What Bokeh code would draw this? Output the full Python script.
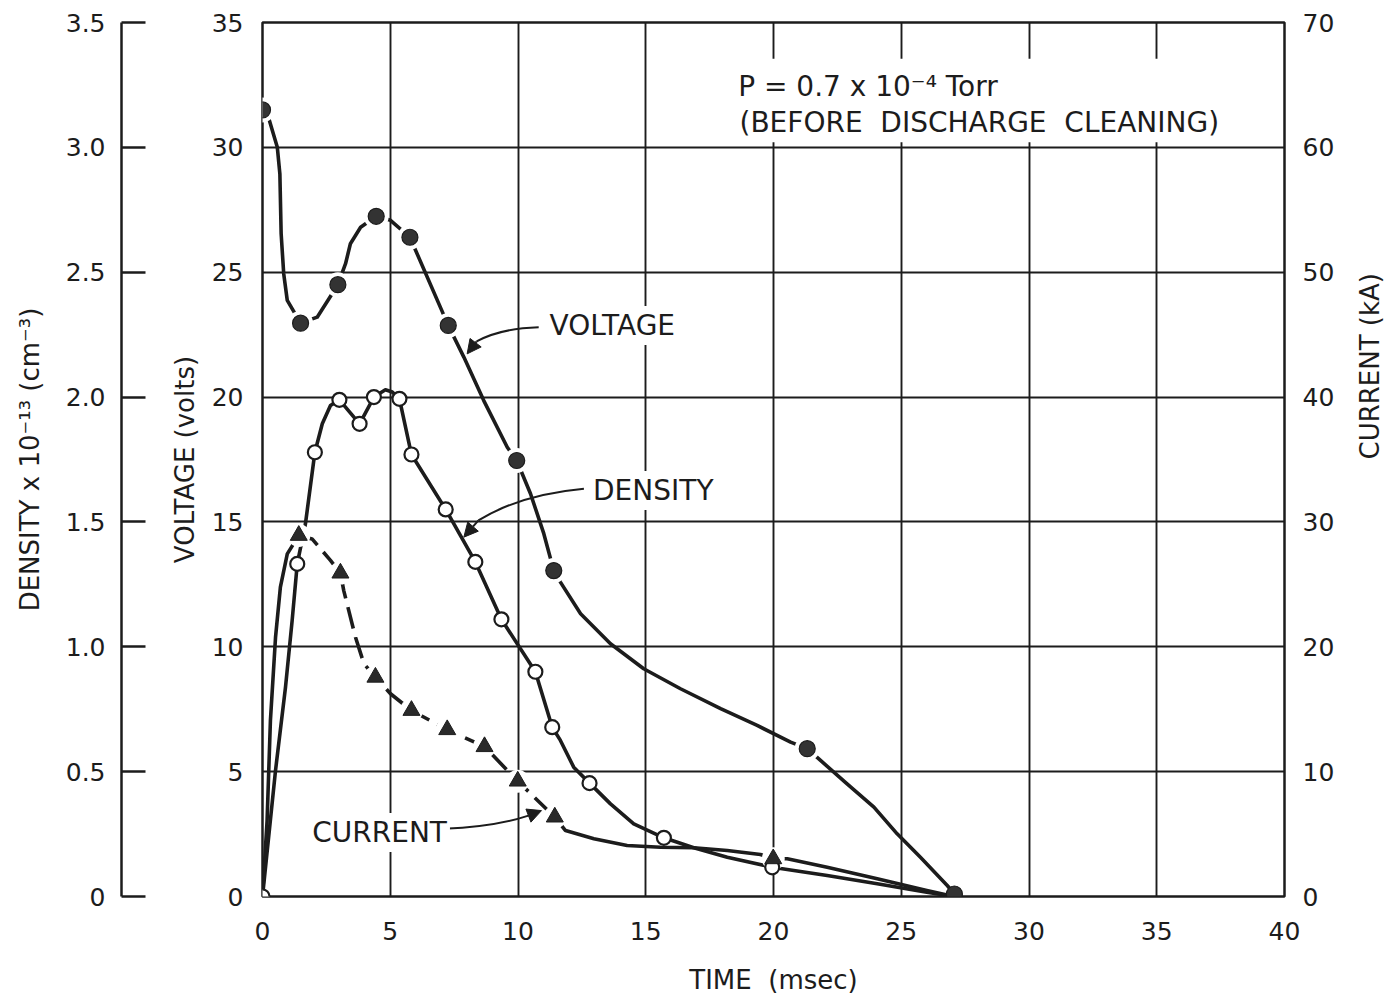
import math
from bokeh.plotting import figure
from bokeh.models import Range1d, LinearAxis, FixedTicker, Label, Arrow, NormalHead, BoxAnnotation
from bokeh.embed import file_html
from bokeh.resources import INLINE

# ---------------- data ----------------
# measured points (markers)
voltage_t = [0.0, 1.49, 2.95, 4.45, 5.77, 7.27, 9.95, 11.4, 21.32, 27.08]
voltage_v = [31.5, 22.96, 24.5, 27.24, 26.4, 22.87, 17.46, 13.05, 5.92, 0.1]

density_t = [0.0, 1.36, 2.05, 3.01, 3.80, 4.36, 5.36, 5.83, 7.17, 8.33, 9.35, 10.68, 11.34, 12.8, 15.71, 19.95]
density_n = [0.0, 1.332, 1.779, 1.989, 1.893, 2.0, 1.993, 1.77, 1.55, 1.34, 1.11, 0.90, 0.678, 0.454, 0.235, 0.117]

current_t = [1.42, 3.05, 4.42, 5.83, 7.23, 8.69, 9.99, 11.44, 19.99]
current_i = [28.92, 25.9, 17.56, 14.9, 13.36, 12.0, 9.24, 6.36, 3.02]

# hand-drawn curves through the points
voltage_curve_t = [0.0, 0.27, 0.58, 0.68, 0.73, 0.83, 0.97, 1.49, 2.14, 2.95, 3.25, 3.44, 3.84, 4.45,
                   5.01, 5.77, 7.27, 7.88, 8.66, 9.58, 9.95, 10.49, 11.01, 11.4, 11.66, 12.45, 13.62,
                   14.92, 16.36, 17.93, 19.36, 20.67, 21.32, 21.84, 22.88, 23.93, 24.84, 25.75, 26.8, 27.08]
voltage_curve_v = [31.5, 31.08, 30.0, 28.94, 26.54, 24.94, 23.87, 22.96, 23.2, 24.5, 25.34, 26.14, 26.8, 27.24,
                   27.08, 26.4, 22.87, 21.6, 19.86, 17.99, 17.46, 16.13, 14.53, 13.05, 12.59, 11.32, 10.12,
                   9.12, 8.32, 7.52, 6.85, 6.18, 5.92, 5.45, 4.51, 3.58, 2.51, 1.57, 0.44, 0.1]

density_curve_t = [0.0, 0.51, 0.9, 1.16, 1.36, 1.68, 2.05, 2.34, 2.66, 3.01, 3.80, 4.36, 4.81, 5.08, 5.36,
                   5.83, 7.17, 8.33, 9.35, 10.68, 11.34, 11.66, 12.18, 12.8, 13.62, 14.53, 15.71, 16.88,
                   18.19, 19.95, 22.1, 24.06, 26.0, 27.06]
density_curve_n = [0.0, 0.505, 0.838, 1.105, 1.332, 1.492, 1.779, 1.893, 1.966, 1.989, 1.893, 2.0, 2.029,
                   2.02, 1.993, 1.77, 1.55, 1.34, 1.11, 0.90, 0.678, 0.625, 0.518, 0.454, 0.371, 0.291,
                   0.235, 0.195, 0.157, 0.117, 0.084, 0.051, 0.017, 0.0]

current_curve_t = [0.0, 0.18, 0.31, 0.51, 0.7, 0.97, 1.42, 1.94, 2.66, 3.05, 3.18, 3.64, 3.97, 4.42, 5.01,
                   5.83, 7.23, 8.69, 9.99, 11.44, 11.86, 12.97, 14.27, 15.58, 16.88, 18.19, 19.49, 19.99,
                   20.54, 22.1, 24.06, 26.0, 27.06]
current_curve_i = [0.0, 6.08, 14.1, 20.76, 24.78, 27.44, 28.92, 28.64, 26.92, 25.9, 24.5, 20.76, 18.64,
                   17.56, 16.24, 14.9, 13.36, 12.0, 9.24, 6.36, 5.28, 4.62, 4.08, 3.94, 3.9, 3.68, 3.36,
                   3.02, 3.02, 2.34, 1.42, 0.48, 0.0]

time_ticks = [0, 5, 10, 15, 20, 25, 30, 35, 40]
time_tick_labels = ["0", "5", "10", "15", "20", "25", "30", "35", "40"]
voltage_ticks = [0, 5, 10, 15, 20, 25, 30, 35]
voltage_tick_labels = ["0", "5", "10", "15", "20", "25", "30", "35"]
density_ticks = [0, 0.5, 1.0, 1.5, 2.0, 2.5, 3.0, 3.5]
density_tick_labels = ["0", "0.5", "1.0", "1.5", "2.0", "2.5", "3.0", "3.5"]
current_ticks = [0, 10, 20, 30, 40, 50, 60, 70]
current_tick_labels = ["0", "10", "20", "30", "40", "50", "60", "70"]

# ---------------- style ----------------
FONT = "DejaVu Sans"
INK = "#1c1c1c"
TICK_FS = "25px"
TITLE_FS = "26px"
ANN_FS = "28px"
NB = "\u00a0"

p = figure(
    frame_width=1022, frame_height=874,
    x_range=Range1d(0, 40), y_range=Range1d(0, 35),
    output_backend="svg", toolbar_location=None,
    min_border_left=262, min_border_right=112, min_border_top=22, min_border_bottom=100,
    background_fill_color="white", border_fill_color="white",
    outline_line_color=INK, outline_line_width=2.5,
)
p.extra_y_ranges = {"density": Range1d(0, 3.5), "current": Range1d(0, 70)}

# grid
p.xgrid.ticker = FixedTicker(ticks=time_ticks)
p.ygrid.ticker = FixedTicker(ticks=voltage_ticks)
for g in (p.xgrid, p.ygrid):
    g.grid_line_color = INK
    g.grid_line_width = 1.9
    g.grid_line_alpha = 1.0

# white box behind the pressure note (interrupts the grid as in the original)
p.add_layout(BoxAnnotation(left=18.2, right=37.9, bottom=30.2, top=33.55, fill_color="white",
                           fill_alpha=1.0, line_color=None, level="underlay"))


def style_axis(ax, ticks, labels, title):
    ax.ticker = FixedTicker(ticks=ticks)
    ax.major_label_overrides = dict(zip(ticks, labels))
    ax.minor_tick_line_color = None
    ax.major_label_text_font = FONT
    ax.major_label_text_font_size = TICK_FS
    ax.major_label_text_color = INK
    ax.axis_label = title
    ax.axis_label_text_font = FONT
    ax.axis_label_text_font_size = TITLE_FS
    ax.axis_label_text_font_style = "normal"
    ax.axis_label_text_color = INK


# x axis
xax = p.xaxis[0]
style_axis(xax, time_ticks, time_tick_labels, "TIME" + NB + " (msec)")
xax.major_tick_out = 0
xax.major_tick_in = 0
xax.axis_line_color = None
xax.major_label_standoff = 25
xax.axis_label_standoff = 22

# voltage axis (inner left)
vax = p.yaxis[0]
style_axis(vax, voltage_ticks, voltage_tick_labels, "VOLTAGE (volts)")
vax.major_tick_out = 0
vax.major_tick_in = 0
vax.axis_line_color = None
vax.major_label_standoff = 19
vax.axis_label_standoff = 9

# spacer between voltage and density axis
spacer = LinearAxis(y_range_name="density", ticker=FixedTicker(ticks=[0.0]),
                    major_label_overrides={0.0: ""},
                    axis_line_color=None, major_tick_line_color="white", major_tick_line_alpha=0.0,
                    minor_tick_line_color=None, major_tick_out=45, major_tick_in=0,
                    major_label_standoff=0, major_label_text_font_size="1px")
p.add_layout(spacer, "left")

# density axis (outer left)
dax = LinearAxis(y_range_name="density")
style_axis(dax, density_ticks, density_tick_labels,
           "DENSITY x 10\u207b\u00b9\u00b3 (cm\u207b\u00b3)")
dax.axis_line_color = INK
dax.axis_line_width = 2.5
dax.major_tick_line_color = INK
dax.major_tick_line_width = 2.5
dax.major_tick_in = 24
dax.major_tick_out = 0
dax.major_label_standoff = 16
dax.axis_label_standoff = 18
p.add_layout(dax, "left")

# current axis (right)
cax = LinearAxis(y_range_name="current")
style_axis(cax, current_ticks, current_tick_labels, "CURRENT (kA)")
cax.axis_line_color = None
cax.major_tick_out = 0
cax.major_tick_in = 0
cax.major_label_standoff = 18
cax.axis_label_standoff = 33
try:
    cax.axis_label_orientation = math.pi / 2
except Exception:
    pass
p.add_layout(cax, "right")

# ---------------- curves ----------------
LW = 3.6
p.line(voltage_curve_t, voltage_curve_v, line_color=INK, line_width=LW, line_join="round")
p.line(density_curve_t, density_curve_n, y_range_name="density", line_color=INK, line_width=LW,
       line_join="round")

i_peak = current_curve_t.index(current_t[0])
i_dash_end = current_curve_t.index(current_t[7])
p.line(current_curve_t[:i_peak + 1], current_curve_i[:i_peak + 1], y_range_name="current",
       line_color=INK, line_width=LW, line_join="round")
p.line(current_curve_t[i_peak:i_dash_end + 1], current_curve_i[i_peak:i_dash_end + 1],
       y_range_name="current", line_color=INK, line_width=LW, line_dash="22 9", line_join="round")
p.line(current_curve_t[i_dash_end:], current_curve_i[i_dash_end:], y_range_name="current",
       line_color=INK, line_width=LW, line_join="round")

# white halos (the line stops short of the markers)
p.scatter(voltage_t[:-1], voltage_v[:-1], marker="circle", size=25, fill_color="white", line_color=None)
p.scatter(current_t, current_i, y_range_name="current", marker="circle", size=23,
          fill_color="white", line_color=None)

# markers
p.scatter(density_t, density_n, y_range_name="density", marker="circle", size=14,
          fill_color="white", line_color=INK, line_width=2.2)
p.scatter(current_t, current_i, y_range_name="current", marker="triangle", size=17,
          fill_color="#2a2a2a", line_color=INK, line_width=1)
p.scatter(voltage_t, voltage_v, marker="circle", size=16, fill_color="#333333", line_color=INK,
          line_width=1.2)

# ---------------- annotations ----------------
label_specs = [
    (18.5, 32.44, "P = 0.7 x 10\u207b\u2074 Torr"),
    (18.55, 31.0, "(BEFORE" + NB + " DISCHARGE" + NB + " CLEANING)"),
    (11.12, 22.87, "VOLTAGE"),
    (12.82, 16.26, "DENSITY"),
    (1.83, 2.56, "CURRENT"),
]
for lx, ly, txt in label_specs:
    p.add_layout(Label(x=lx, y=ly, text=txt, text_font=FONT, text_font_size=ANN_FS,
                       text_color=INK, text_baseline="middle", text_align="left",
                       background_fill_color="white", padding=3))

# curved leader arrows: (start, control, bend end, arrow tip)
arrow_specs = [
    ((10.81, 22.80), (9.32, 22.75), (8.38, 22.23), (8.01, 21.73)),
    ((12.58, 16.33), (10.10, 16.10), (8.45, 15.06), (7.88, 14.39)),
    ((7.10, 2.71), (9.12, 2.80), (10.41, 3.24), (10.92, 3.44)),
]
for (sx, sy), (cx, cy), (bx, by), (ex, ey) in arrow_specs:
    p.quadratic(x0=[sx], y0=[sy], x1=[bx], y1=[by], cx=[cx], cy=[cy], line_color=INK, line_width=2)
    p.add_layout(Arrow(x_start=bx, y_start=by, x_end=ex, y_end=ey, line_color=INK, line_width=2,
                       end=NormalHead(size=14, fill_color=INK, line_color=INK)))

open("out.html", "w").write(file_html(p, INLINE))
